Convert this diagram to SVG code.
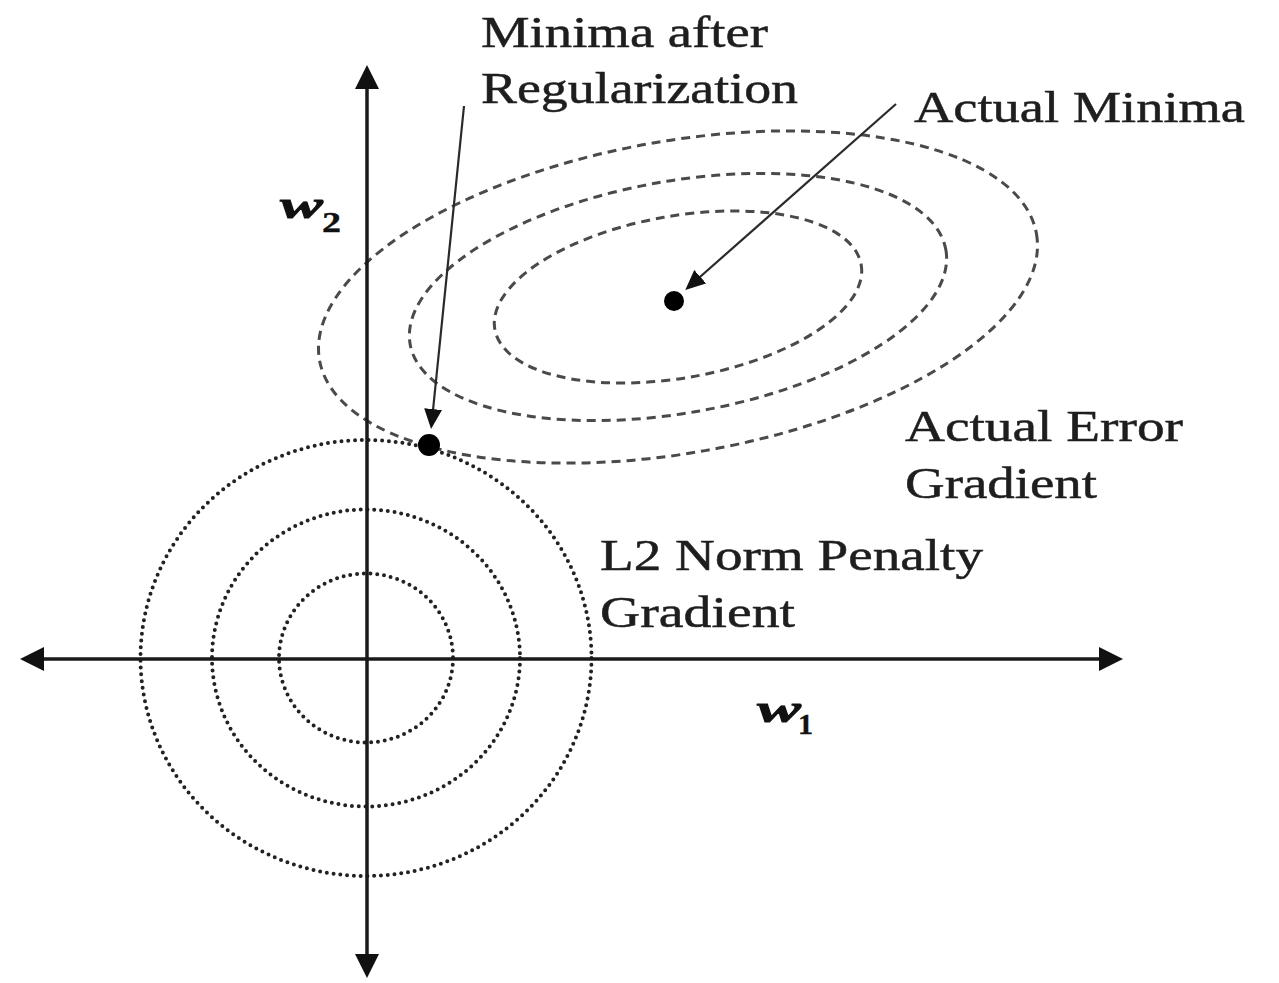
<svg xmlns="http://www.w3.org/2000/svg" width="1279" height="983" viewBox="0 0 1279 983">
<style>
.lbl{font-family:"Liberation Serif","Times New Roman",serif;font-size:45px;fill:#1e1e1e;stroke:#1e1e1e;stroke-width:0.5}
.var{font-family:"Liberation Serif","Times New Roman",serif;font-weight:bold;font-style:italic;fill:#111;stroke:#111;stroke-width:0.8}
.sub{font-family:"Liberation Serif","Times New Roman",serif;font-weight:bold;font-style:normal;fill:#111;stroke:#111;stroke-width:0.4}
.axis{stroke:#1a1a1a;stroke-width:3.5;fill:none}
.conn{stroke:#2a2a2a;stroke-width:2.2;fill:none}
.dash{stroke:#4a4a4a;stroke-width:3;fill:none;stroke-dasharray:9 6}
.dot{stroke:#222;stroke-width:4;fill:none;stroke-dasharray:0 6.8;stroke-linecap:round}
.pt{fill:#000}
</style>
<defs>
<marker id="axhead" viewBox="0 0 24 24" refX="13" refY="12" markerWidth="24" markerHeight="24" markerUnits="userSpaceOnUse" orient="auto-start-reverse">
<path d="M0,0 L24,12 L0,24 z" fill="#111"/>
</marker>
<marker id="ptr" viewBox="0 0 20 18" refX="11" refY="9" markerWidth="20" markerHeight="18" markerUnits="userSpaceOnUse" orient="auto">
<path d="M0,0 L20,9 L0,18 z" fill="#111"/>
</marker>
</defs>
<rect width="1279" height="983" fill="#fff"/>

<g id="error-contours">
<g transform="translate(678 297) rotate(-10)">
<ellipse class="dash" cx="0" cy="0" rx="364" ry="156"/>
<ellipse class="dash" cx="0" cy="0" rx="272" ry="116"/>
<ellipse class="dash" cx="0" cy="0" rx="186" ry="81"/>
</g>
</g>

<g id="penalty-contours">
<ellipse class="dot" cx="366" cy="658" rx="225.5" ry="218"/>
<ellipse class="dot" cx="366" cy="658" rx="154" ry="148.5"/>
<ellipse class="dot" cx="366" cy="658" rx="87" ry="84.5"/>
</g>

<g id="axes">
<line class="axis" x1="367" y1="76" x2="367" y2="967" marker-start="url(#axhead)" marker-end="url(#axhead)"/>
<line class="axis" x1="31" y1="659" x2="1112" y2="659" marker-start="url(#axhead)" marker-end="url(#axhead)"/>
</g>

<g id="label-w2">
<text class="var" x="280" y="218" font-size="38" textLength="43" lengthAdjust="spacingAndGlyphs">w</text>
<text class="sub" x="322" y="232" font-size="30" textLength="19" lengthAdjust="spacingAndGlyphs">2</text>
</g>
<g id="label-w1">
<text class="var" x="757" y="722" font-size="38" textLength="44" lengthAdjust="spacingAndGlyphs">w</text>
<text class="sub" x="798" y="734" font-size="30" textLength="15" lengthAdjust="spacingAndGlyphs">1</text>
</g>

<g id="actual-minima">
<circle class="pt" cx="674" cy="301" r="10"/>
<text class="lbl" x="914" y="122" textLength="331" lengthAdjust="spacingAndGlyphs">Actual Minima</text>
</g>

<g id="regularized-minima">
<circle class="pt" cx="429" cy="445" r="11"/>
<text class="lbl" x="481" y="47" textLength="287" lengthAdjust="spacingAndGlyphs">Minima after</text>
<text class="lbl" x="481" y="103" textLength="317" lengthAdjust="spacingAndGlyphs">Regularization</text>
</g>

<g id="label-error-gradient">
<text class="lbl" x="905" y="441" textLength="278" lengthAdjust="spacingAndGlyphs">Actual Error</text>
<text class="lbl" x="905" y="498" textLength="192" lengthAdjust="spacingAndGlyphs">Gradient</text>
</g>

<g id="label-penalty-gradient">
<text class="lbl" x="600" y="570" textLength="383" lengthAdjust="spacingAndGlyphs">L2 Norm Penalty</text>
<text class="lbl" x="600" y="627" textLength="195" lengthAdjust="spacingAndGlyphs">Gradient</text>
</g>

<g id="connectors">
<line class="conn" x1="896" y1="104" x2="692" y2="284" marker-end="url(#ptr)"/>
<line class="conn" x1="464" y1="106" x2="432" y2="420" marker-end="url(#ptr)"/>
</g>
</svg>
